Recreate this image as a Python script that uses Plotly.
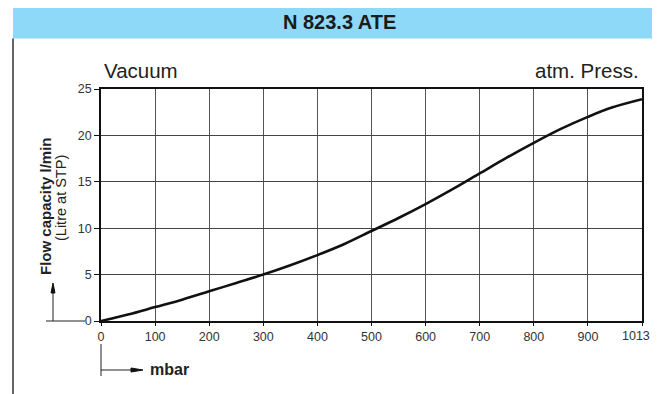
import plotly.graph_objects as go

# ---- data ----
pressure_mbar = [0, 50, 100, 150, 200, 250, 300, 350, 400, 450, 500, 550,
                 600, 650, 700, 750, 800, 850, 900, 950, 1013]
flow_lpm = [0, 0.7, 1.5, 2.3, 3.2, 4.1, 5.0, 6.0, 7.1, 8.3, 9.7, 11.1,
            12.6, 14.2, 15.9, 17.6, 19.2, 20.7, 22.0, 23.0, 23.9]
x_tick_labels = ["0", "100", "200", "300", "400", "500", "600", "700", "800", "900", "1013"]
y_tick_values = [0, 5, 10, 15, 20, 25]
title_text = "N 823.3 ATE"


# the drawing places 1013 mbar on the 10th grid line
def pos(m):
    return m if m <= 900 else 900 + (m - 900) * 100.0 / 113.0


x_pos = [pos(m) for m in pressure_mbar]
x_tick_pos = [pos(float(t)) for t in x_tick_labels]

# page offset (body margin) compensation
OFF = 8
W, H = 660 - OFF, 394 - OFF
# plot area in page pixels
L, R, T, B = 101, 642, 89, 321


def px(x):
    return (x - L) / (R - L)


def py(y):
    return (B - y) / (B - T)


fig = go.Figure()
fig.add_trace(go.Scatter(
    x=x_pos, y=flow_lpm, mode="lines",
    line=dict(color="#111111", width=2.6, shape="spline", smoothing=1.0),
    hoverinfo="skip", showlegend=False,
))

tick_font = dict(family="Liberation Sans Narrow, Arial Narrow, Liberation Sans, sans-serif",
                 size=12.5, color="#333333")

# last label is drawn separately so it stays inside the visible page
shown_ticktext = x_tick_labels[:-1] + [""]

fig.update_layout(
    width=W, height=H,
    margin=dict(l=L - OFF, r=W - (R - OFF), t=T - OFF, b=H - (B - OFF), pad=0,
                autoexpand=False),
    paper_bgcolor="white", plot_bgcolor="white",
    xaxis=dict(range=[0, 1000], tickvals=x_tick_pos, ticktext=shown_ticktext,
               showgrid=True, gridcolor="#555555", gridwidth=1,
               showline=True, linecolor="#111111", linewidth=1.6, mirror=True,
               ticks="outside", ticklen=3, tickcolor="#111111", automargin=False,
               tickfont=tick_font, zeroline=False, fixedrange=True),
    yaxis=dict(range=[0, 25], tickvals=y_tick_values,
               showgrid=True, gridcolor="#444444", gridwidth=1,
               showline=True, linecolor="#111111", linewidth=1.6, mirror=True,
               ticks="outside", ticklen=5, tickcolor="#111111", automargin=False,
               tickfont=tick_font, zeroline=False, fixedrange=True),
    font=dict(family="Liberation Sans, Arial, sans-serif", color="#222222"),
)

shapes = []
# header banner
shapes.append(dict(type="rect", xref="paper", yref="paper",
                   x0=px(13), x1=px(665), y0=py(38.5), y1=py(5),
                   fillcolor="#8ED8F8", line=dict(width=0), layer="below"))
# left border line
shapes.append(dict(type="line", xref="paper", yref="paper",
                   x0=px(13), x1=px(13), y0=py(38.5), y1=py(400),
                   line=dict(color="#111111", width=1.3)))
# y arrow: horizontal baseline and vertical shaft
shapes.append(dict(type="line", xref="paper", yref="paper",
                   x0=px(46), x1=px(85), y0=py(321), y1=py(321),
                   line=dict(color="#222222", width=1)))
shapes.append(dict(type="line", xref="paper", yref="paper",
                   x0=px(53), x1=px(53), y0=py(321), y1=py(292),
                   line=dict(color="#222222", width=1)))
shapes.append(dict(type="path", xref="paper", yref="paper",
                   path="M %f %f L %f %f L %f %f Z" % (px(51), py(293), px(53), py(283), px(55), py(293)),
                   fillcolor="#111111", line=dict(color="#111111", width=1)))
# x arrow
shapes.append(dict(type="line", xref="paper", yref="paper",
                   x0=px(101), x1=px(101), y0=py(344), y1=py(376),
                   line=dict(color="#222222", width=1)))
shapes.append(dict(type="line", xref="paper", yref="paper",
                   x0=px(101), x1=px(132), y0=py(370), y1=py(370),
                   line=dict(color="#222222", width=1)))
shapes.append(dict(type="path", xref="paper", yref="paper",
                   path="M %f %f L %f %f L %f %f Z" % (px(131), py(368), px(143), py(370), px(131), py(372)),
                   fillcolor="#111111", line=dict(color="#111111", width=1)))
fig.update_layout(shapes=shapes)

ann = []
ann.append(dict(text="<b>" + title_text + "</b>", xref="paper", yref="paper",
                x=px(339), y=py(21.5), xanchor="center", yanchor="middle", showarrow=False,
                font=dict(family="Liberation Sans Narrow, Arial Narrow, Liberation Sans, sans-serif",
                          size=20, color="#1a1a1a")))
ann.append(dict(text="Vacuum", xref="paper", yref="paper", x=px(102), y=py(71),
                xanchor="left", yanchor="middle", showarrow=False,
                font=dict(family="Liberation Sans, Arial, sans-serif", size=20.5, color="#222222")))
ann.append(dict(text="atm. Press.", xref="paper", yref="paper", x=px(641), y=py(71),
                xanchor="right", yanchor="middle", showarrow=False,
                font=dict(family="Liberation Sans, Arial, sans-serif", size=20.5, color="#222222")))
ann.append(dict(text="<b>Flow capacity l/min</b>", xref="paper", yref="paper",
                x=px(45), y=py(206), xanchor="center", yanchor="middle", textangle=-90,
                showarrow=False,
                font=dict(family="Liberation Sans, Arial, sans-serif", size=15, color="#222222")))
ann.append(dict(text="(Litre at STP)", xref="paper", yref="paper",
                x=px(61), y=py(198), xanchor="center", yanchor="middle", textangle=-90,
                showarrow=False,
                font=dict(family="Liberation Sans, Arial, sans-serif", size=14.5, color="#222222")))
ann.append(dict(text="<b>mbar</b>", xref="paper", yref="paper",
                x=px(148), y=py(369), xanchor="left", yanchor="middle", showarrow=False,
                font=dict(family="Liberation Sans, Arial, sans-serif", size=16, color="#222222")))
# last x tick label
ann.append(dict(text=x_tick_labels[-1], xref="x", yref="paper",
                x=x_tick_pos[-1], y=py(336), xanchor="right", yanchor="middle",
                xshift=10, showarrow=False, font=tick_font))
fig.update_layout(annotations=ann)

fig.write_html("out.html")
